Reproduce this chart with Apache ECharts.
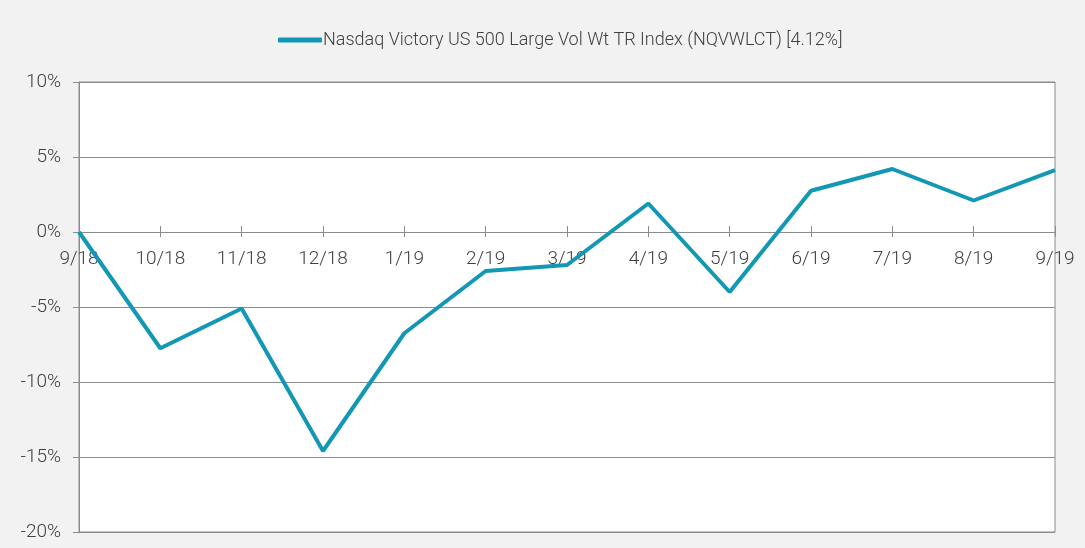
<!DOCTYPE html>
<html>
<head>
<meta charset="utf-8">
<script src="https://cdn.jsdelivr.net/npm/echarts@6/dist/echarts.min.js"></script>
<style>
html,body{margin:0;padding:0;background:#f2f2f2;}
#c{width:1085px;height:548px;}
</style>
</head>
<body>
<div id="c"></div>
<script>
const categories = ['9/18','10/18','11/18','12/18','1/19','2/19','3/19','4/19','5/19','6/19','7/19','8/19','9/19'];
const seriesName = 'Nasdaq Victory US 500 Large Vol Wt TR Index (NQVWLCT) [4.12%]';
const values = [0, -7.75, -5.1, -14.6, -6.75, -2.6, -2.2, 1.9, -4.0, 2.75, 4.2, 2.1, 4.12];
const yTicks = {min: -20, max: 10, interval: 5};

const font = 'Roboto';
const textColor = '#404040';
const gridColor = '#8c8c8c';
const lineColor = '#1297b5';

const chart = echarts.init(document.getElementById('c'));
chart.setOption({
  backgroundColor: '#f2f2f2',
  animation: false,
  textStyle: {fontFamily: font, fontWeight: 300},
  legend: {
    top: 26,
    left: 273,
    icon: 'roundRect',
    itemWidth: 44,
    itemHeight: 5,
    itemGap: 4,
    textStyle: {fontFamily: font, fontWeight: 300, fontSize: 18, color: textColor, padding: [0,0,0,-4]},
    data: [seriesName]
  },
  grid: {
    left: 79, right: 30, top: 82, bottom: 16,
    outerBoundsMode: 'none',
    show: true, backgroundColor: '#ffffff', borderColor: gridColor, borderWidth: 1
  },
  xAxis: [{
    type: 'category',
    data: categories,
    boundaryGap: false,
    offset: -300,
    axisLine: {onZero: false, lineStyle: {color: gridColor, width: 1}},
    axisTick: {show: true, inside: false, length: 5, lineStyle: {color: gridColor}},
    axisLabel: {fontFamily: font, fontWeight: 300, fontSize: 19, color: textColor, margin: 18, interval: 0, hideOverlap: false}
  }, {
    type: 'category',
    data: categories,
    boundaryGap: false,
    position: 'top',
    offset: -150,
    axisLine: {onZero: false, show: false},
    axisTick: {show: true, inside: false, length: 6, lineStyle: {color: gridColor}},
    axisLabel: {show: false}
  }],
  yAxis: {
    type: 'value',
    min: yTicks.min, max: yTicks.max, interval: yTicks.interval,
    axisLine: {show: true, onZero: false, lineStyle: {color: gridColor, width: 1}},
    axisTick: {show: true, length: 6, lineStyle: {color: gridColor}},
    splitLine: {show: true, lineStyle: {color: gridColor, width: 1}},
    axisLabel: {fontFamily: font, fontWeight: 300, fontSize: 19, color: textColor, margin: 18, formatter: v => v + '%'}
  },
  series: [{
    name: seriesName,
    type: 'line',
    xAxisIndex: 0,
    data: values,
    showSymbol: false,
    symbol: 'none',
    lineStyle: {color: lineColor, width: 4},
    itemStyle: {color: lineColor}
  }]
});
</script>
</body>
</html>
